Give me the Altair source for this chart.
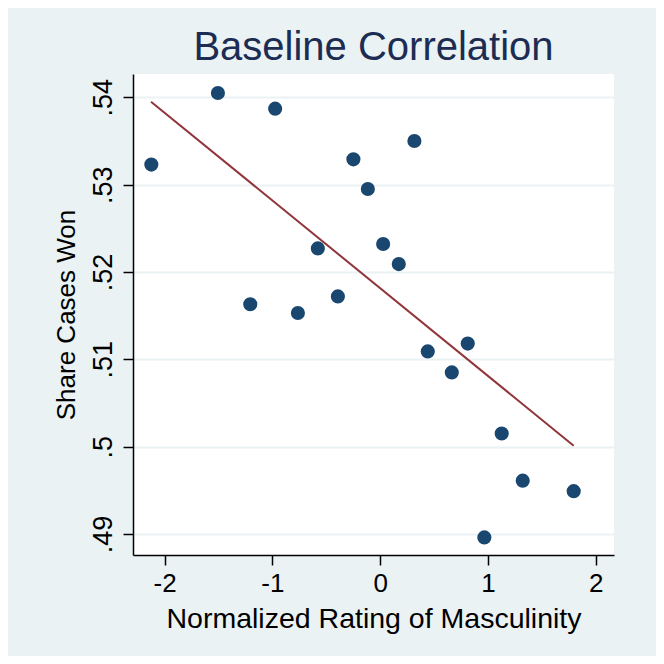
import altair as alt
import pandas as pd

# Binned scatter values
masc = [-2.123, -1.505, -0.974, -0.248, -0.114, 0.318, -0.578, 0.028, 0.173,
        -1.205, -0.392, -0.763, 0.442, 0.813, 0.665, 1.128, 1.323, 1.796, 0.967]
share = [0.5323, 0.5405, 0.5387, 0.5329, 0.5295, 0.5350, 0.5227, 0.5232, 0.5209,
         0.5163, 0.5172, 0.5153, 0.5109, 0.5118, 0.5085, 0.5015, 0.4961, 0.4949, 0.4896]

# Fitted line end points
fit_x = [-2.126, 1.796]
fit_y = [0.5395, 0.5001]

x_ticks = [-2, -1, 0, 1, 2]
y_ticks = [0.49, 0.50, 0.51, 0.52, 0.53, 0.54]

pts = pd.DataFrame({"x": masc, "y": share})
fit = pd.DataFrame({"x": fit_x, "y": fit_y})

FONT = "Liberation Sans"
xscale = alt.Scale(domain=[-2.293, 2.170], nice=False, zero=False)
yscale = alt.Scale(domain=[0.48759, 0.54267], nice=False, zero=False)

xaxis = alt.Axis(values=x_ticks, title="Normalized Rating of Masculinity", grid=False,
                 labelExpr="'' + datum.value",
                 labelFontSize=26, titleFontSize=28.5, labelPadding=5, titlePadding=8,
                 tickSize=10, labelFont=FONT, titleFont=FONT)
yaxis = alt.Axis(values=y_ticks, title="Share Cases Won", grid=True, format=".2~f",
                 labelExpr="substring(datum.label, 1)", labelAngle=-90,
                 labelFontSize=27, titleFontSize=26, labelPadding=6, titlePadding=10,
                 tickSize=10, labelFont=FONT, titleFont=FONT)

points = alt.Chart(pts).mark_circle(size=200, color="#1a476f", opacity=1).encode(
    x=alt.X("x:Q", scale=xscale, axis=xaxis),
    y=alt.Y("y:Q", scale=yscale, axis=yaxis),
)

line = alt.Chart(fit).mark_line(color="#90353b", strokeWidth=2).encode(
    x=alt.X("x:Q", scale=xscale),
    y=alt.Y("y:Q", scale=yscale),
)

chart = alt.layer(line, points).properties(
    width=481, height=481,
    title=alt.TitleParams("Baseline Correlation", fontSize=40, font=FONT,
                          fontWeight="normal", color="#1c2c52", anchor="middle", offset=6),
    autosize=alt.AutoSizeParams(type="none"),
    padding={"left": 125, "top": 66, "right": 42, "bottom": 101},
).configure(background="#eaf2f3").configure_view(
    fill="white", stroke=None
).configure_axis(
    domainColor="black", domainWidth=1.5, tickColor="black", tickWidth=1.5,
    labelColor="black", titleColor="black", titleFontWeight="normal",
    gridColor="#eaf2f3", gridWidth=2,
)

chart.save("out.html", embed_options={"renderer": "svg", "actions": False})
